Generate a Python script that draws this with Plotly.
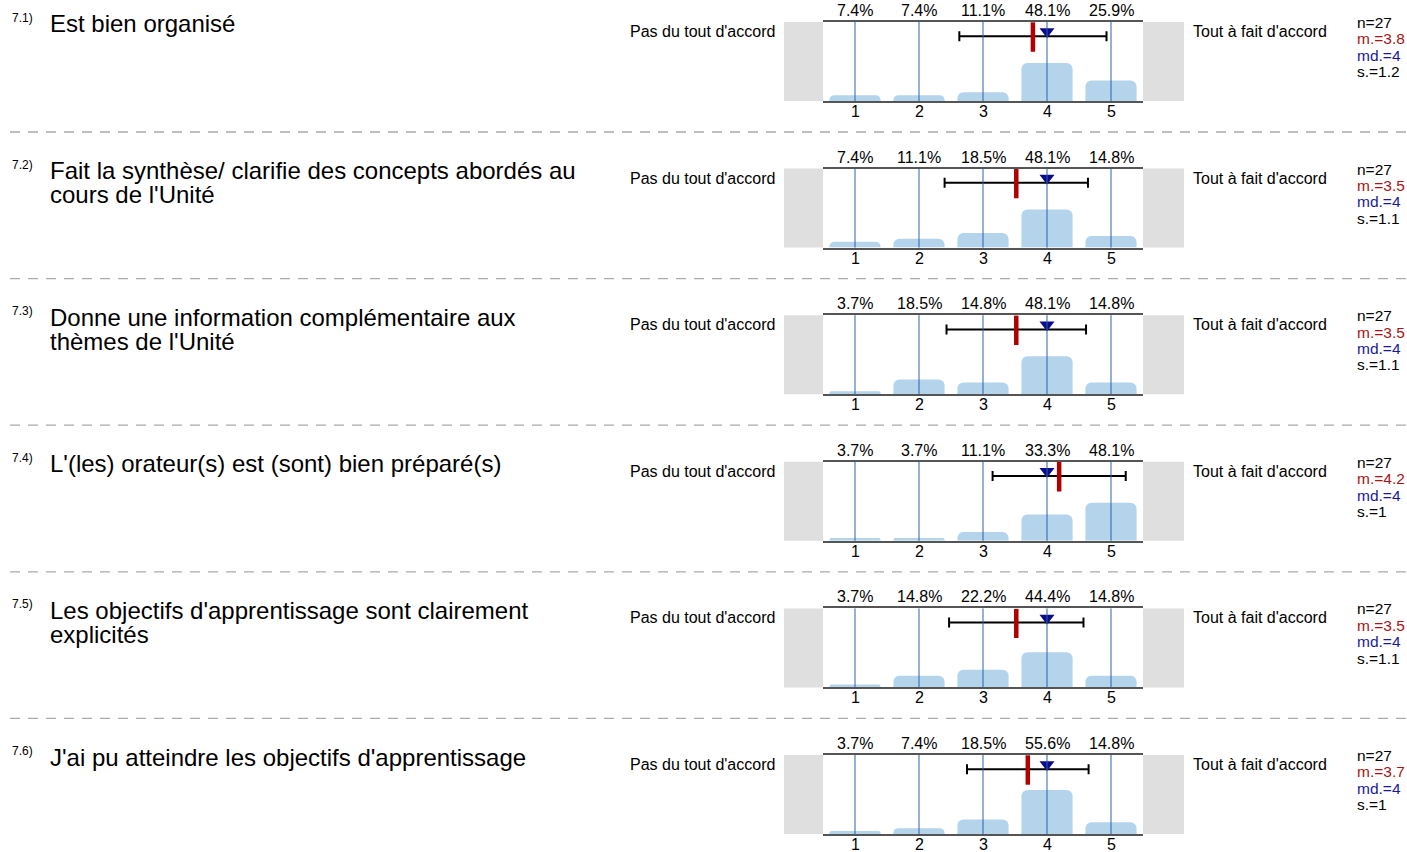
import plotly.graph_objects as go

W, H = 1407, 852

numbers = ["7.1)", "7.2)", "7.3)", "7.4)", "7.5)", "7.6)"]
questions = [
    ["Est bien organisé"],
    ["Fait la synthèse/ clarifie des concepts abordés au", "cours de l'Unité"],
    ["Donne une information complémentaire aux", "thèmes de l'Unité"],
    ["L'(les) orateur(s) est (sont) bien préparé(s)"],
    ["Les objectifs d'apprentissage sont clairement", "explicités"],
    ["J'ai pu atteindre les objectifs d'apprentissage"],
]
categories = [1, 2, 3, 4, 5]
tick_labels = ["1", "2", "3", "4", "5"]
percents = [
    [7.4, 7.4, 11.1, 48.1, 25.9],
    [7.4, 11.1, 18.5, 48.1, 14.8],
    [3.7, 18.5, 14.8, 48.1, 14.8],
    [3.7, 3.7, 11.1, 33.3, 48.1],
    [3.7, 14.8, 22.2, 44.4, 14.8],
    [3.7, 7.4, 18.5, 55.6, 14.8],
]
n_values = [27, 27, 27, 27, 27, 27]
means = [3.78, 3.52, 3.52, 4.19, 3.52, 3.70]
medians = [4, 4, 4, 4, 4, 4]
sds = [1.15, 1.12, 1.09, 1.04, 1.05, 0.95]
mean_labels = ["3.8", "3.5", "3.5", "4.2", "3.5", "3.7"]
sd_labels = ["1.2", "1.1", "1.1", "1", "1.1", "1"]
left_label = "Pas du tout d'accord"
right_label = "Tout à fait d'accord"

FONT = "Liberation Sans, Arial, sans-serif"
BAR_COLOR = "#b4d4ec"
GRID_COLOR = "#2a62aa"
GRAY_BOX = "#dfdfdf"
AXIS_COLOR = "#555555"


def px(x):
    return x / W


def py(y):
    return 1 - y / H


fig = go.Figure()
shapes = []
annotations = []

X0, X1 = 823, 1143
ROW_STEP = 146.6
PLOT_H = 79


def txt(x, y, text, size, color="black", xanchor="left", xref="paper", pad=1):
    annotations.append(dict(x=x, y=py(y), xref=xref, yref="paper", text=text,
                            xanchor=xanchor, yanchor="middle", showarrow=False, borderpad=pad,
                            font=dict(size=size, color=color, family=FONT)))


for i in range(6):
    top = 22 + ROW_STEP * i
    bot = top + PLOT_H
    ax = "" if i == 0 else str(i + 1)
    xa, ya = "x" + ax, "y" + ax

    fig.add_trace(go.Bar(
        x=categories, y=percents[i], width=0.8,
        marker=dict(color=BAR_COLOR, cornerradius=6, line=dict(width=0)),
        xaxis=xa, yaxis=ya, hoverinfo="skip", showlegend=False,
    ))
    # error bar (mean ± sd)
    fig.add_trace(go.Scatter(
        x=[means[i]], y=[82], mode="markers",
        marker=dict(size=1, color="black", opacity=0),
        error_x=dict(type="data", array=[sds[i]], color="black", thickness=2, width=5),
        xaxis=xa, yaxis=ya, hoverinfo="skip", showlegend=False,
    ))
    # mean marker
    fig.add_trace(go.Scatter(
        x=[means[i]], y=[81], mode="markers",
        marker=dict(symbol="line-ns", size=21, line=dict(width=4.5, color="#b00000")),
        xaxis=xa, yaxis=ya, hoverinfo="skip", showlegend=False,
    ))
    # median marker
    fig.add_trace(go.Scatter(
        x=[medians[i]], y=[88], mode="markers",
        marker=dict(symbol="triangle-down", size=13, color="#0a0a8c"),
        xaxis=xa, yaxis=ya, hoverinfo="skip", showlegend=False,
    ))

    fig.update_layout(**{
        ("xaxis" + ax): dict(
            domain=[px(X0), px(X1)], range=[0.5, 5.5], anchor=ya,
            showticklabels=False,
            showgrid=False, zeroline=False, showline=True, mirror=True,
            linecolor=AXIS_COLOR, linewidth=2, ticks="", automargin=False,
            fixedrange=True,
        ),
        ("yaxis" + ax): dict(
            domain=[py(bot), py(top)], range=[0, 100], anchor=xa,
            showgrid=False, zeroline=False, showticklabels=False, showline=False,
            fixedrange=True, automargin=False,
        ),
    })

    # vertical blue lines at each category
    for c in categories:
        shapes.append(dict(type="line", xref=xa, yref=ya + " domain", x0=c, x1=c, y0=0, y1=1,
                           line=dict(color=GRID_COLOR, width=1), layer="above"))
    # gray boxes
    shapes.append(dict(type="rect", xref="paper", yref="paper", x0=px(784), x1=px(X0),
                       y0=py(bot), y1=py(top), fillcolor=GRAY_BOX, line=dict(width=0), layer="below"))
    shapes.append(dict(type="rect", xref="paper", yref="paper", x0=px(X1), x1=px(1184),
                       y0=py(bot), y1=py(top), fillcolor=GRAY_BOX, line=dict(width=0), layer="below"))

    # percentage labels and category tick labels
    for c, p, tl in zip(categories, percents[i], tick_labels):
        txt(c, top - 11.5, f"{p}%", 16, xanchor="center", xref=xa)
        txt(c, bot + 10.5, tl, 16, xanchor="center", xref=xa, pad=0)

    # question number and text
    txt(px(10), top - 4, numbers[i], 12)
    for k, line in enumerate(questions[i]):
        txt(px(49), top + 2 + 24 * k, line, 24, pad=0)
    # scale labels
    txt(px(777), top + 9.5, left_label, 16, xanchor="right")
    txt(px(1191), top + 9.5, right_label, 16)
    # stats
    stats = [(f"n={n_values[i]}", "black"), (f"m.={mean_labels[i]}", "#a81414"),
             (f"md.={medians[i]}", "#1a1a9c"), (f"s.={sd_labels[i]}", "black")]
    for k, (t, col) in enumerate(stats):
        txt(px(1356), top + 0.5 + 16.4 * k, t, 15.5, color=col, pad=0)

    # separator
    if i < 5:
        sy = top + 110
        shapes.append(dict(type="line", xref="paper", yref="paper", x0=px(10), x1=1,
                           y0=py(sy), y1=py(sy), line=dict(color="#aaaaaa", width=1.3, dash="10px,8px")))

fig.update_layout(
    width=W, height=H, margin=dict(l=0, r=0, t=0, b=0, autoexpand=False),
    paper_bgcolor="white", plot_bgcolor="white",
    shapes=shapes, annotations=annotations, bargap=0.2,
    font=dict(family=FONT),
)

fig.write_html("out.html", config={"displayModeBar": False},
               post_script="document.body.style.margin='0';document.body.style.overflow='hidden';")
